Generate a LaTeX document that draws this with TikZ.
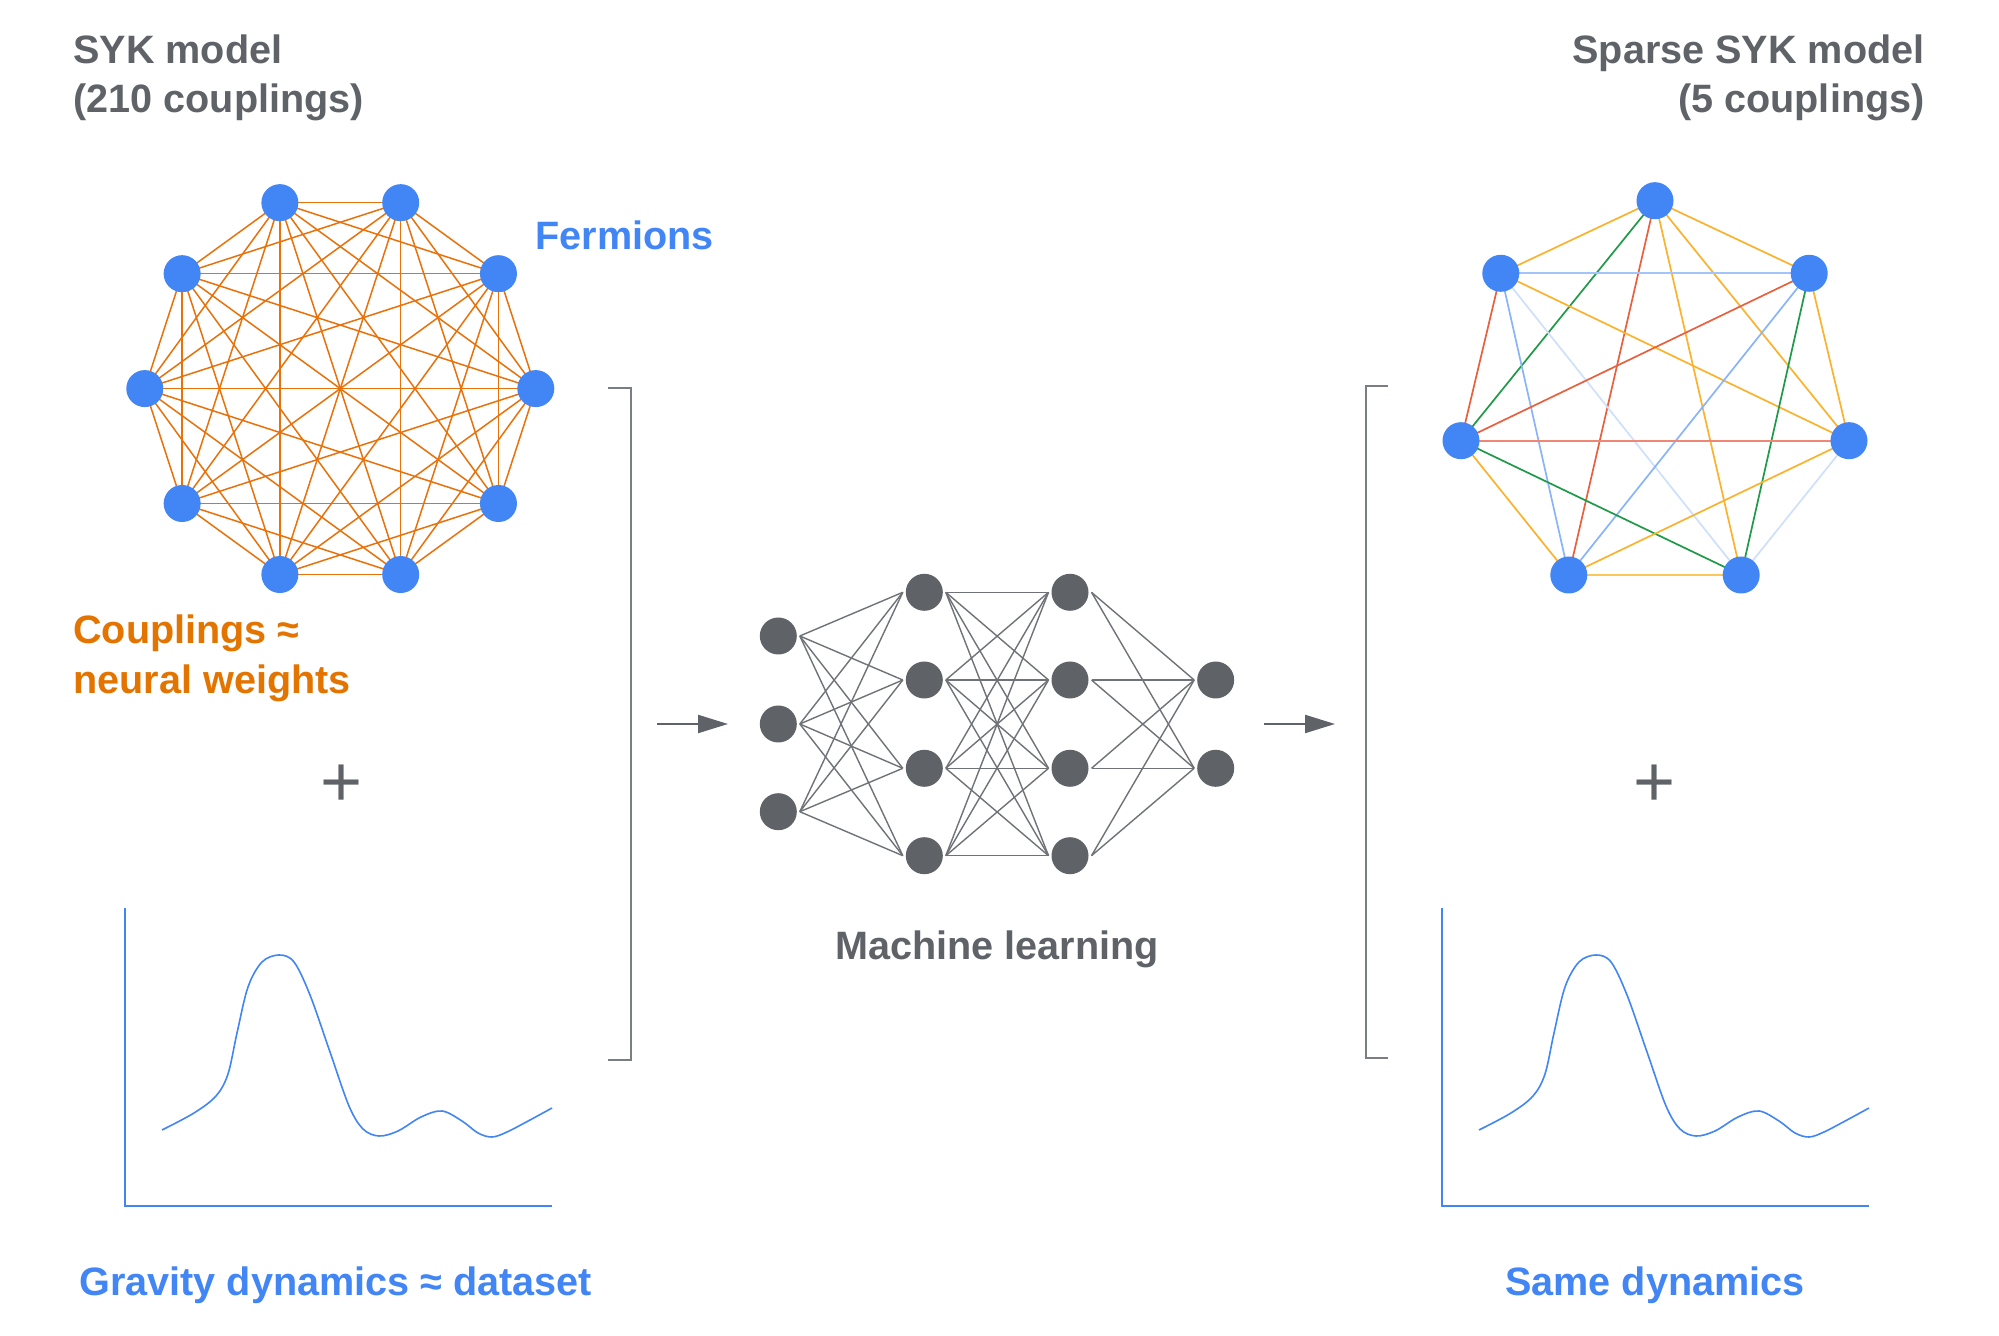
\documentclass[tikz,border=0pt]{standalone}
\usepackage{fontspec}
\setmainfont{Liberation Sans}
\usetikzlibrary{arrows.meta}
\definecolor{ggray}{HTML}{5F6368}
\definecolor{gblue}{HTML}{4285F4}
\definecolor{gorange}{HTML}{E37400}
\definecolor{edgeor}{HTML}{E8710A}
\definecolor{nnedge}{HTML}{6F7377}
\definecolor{brkgray}{HTML}{7A7E83}
\definecolor{cyel}{HTML}{FBB22C}
\definecolor{cyelL}{HTML}{FCC659}
\definecolor{cred}{HTML}{E9603F}
\definecolor{credL}{HTML}{F08774}
\definecolor{cgreen}{HTML}{1F9A48}
\definecolor{cblue}{HTML}{8AB4F8}
\definecolor{cblueM}{HTML}{A3C4FA}
\definecolor{cblueL}{HTML}{CFE0FC}
\pgfdeclarelayer{bg}
\pgfdeclarelayer{canvas}
\pgfsetlayers{canvas,bg,main}
\begin{document}
\begin{tikzpicture}[x=0.5pt,y=-0.5pt,
  lbl/.style={inner sep=0pt,font=\fontsize{19.8}{24}\selectfont\bfseries},
  plussign/.style={inner sep=0pt,text=ggray,font=\fontsize{36}{40}\selectfont},
  fer/.style={circle,fill=gblue,inner sep=0pt,minimum size=18.5pt},
  nn/.style={circle,fill=ggray,inner sep=0pt,minimum size=18.5pt,outer sep=1.5pt},
  cpl/.style={draw=edgeor,line width=0.75pt},
  sp/.style={line width=0.85pt},
  nnl/.style={draw=nnedge,line width=0.7pt},
  arr/.style={draw=ggray,line width=1.1pt,-{Triangle[length=15pt,width=9pt]}},
  brk/.style={draw=brkgray,line width=1pt},
  ax/.style={draw=gblue,line width=0.8pt},
  crv/.style={draw=gblue,line width=0.8pt}]
\begin{pgfonlayer}{canvas}
\fill[white] (0,0) rectangle (1999,1336);
\end{pgfonlayer}
\useasboundingbox (0,0) rectangle (1999,1336);

% ---------- texts ----------
\node[lbl,text=ggray,anchor=base west] (t1) at (73,64) {SYK model};
\node[lbl,text=ggray,anchor=base west] (t2) at (73,113) {(210 couplings)};
\node[lbl,text=ggray,anchor=base east] (t3) at (1925,64) {Sparse SYK model};
\node[lbl,text=ggray,anchor=base east] (t4) at (1925,113) {(5 couplings)};
\node[lbl,text=gblue,anchor=base west] (fer) at (535,250) {Fermions};
\node[lbl,text=gorange,anchor=base west] (cp1) at (73,644) {Couplings ≈};
\node[lbl,text=gorange,anchor=base west] (cp2) at (73,694) {neural weights};
\node[plussign,anchor=base] (p1) at (342,807) {+};
\node[plussign,anchor=base] (p2) at (1655,807) {+};
\node[lbl,text=ggray,anchor=base] (ml) at (997,959) {Machine learning};
\node[lbl,text=gblue,anchor=base west] (gd) at (79,1295) {Gravity dynamics ≈ dataset};
\node[lbl,text=gblue,anchor=base] (sd) at (1655,1295) {Same dynamics};

% ---------- dense SYK graph ----------
\foreach \i in {0,...,9}
  \node[fer] (s\i) at ({340.3+195.5*cos(36*\i)},{388.6-195.5*sin(36*\i)}) {};
\begin{pgfonlayer}{bg}
\foreach \i in {0,...,8}{
  \pgfmathtruncatemacro\js{\i+1}
  \foreach \j in {\js,...,9}
    \draw[cpl] (s\i.center) -- (s\j.center);
}
\end{pgfonlayer}

% ---------- sparse SYK graph ----------
\node[fer] (T)  at (1655,200.7) {};
\node[fer] (UR) at (1809.2,273.3) {};
\node[fer] (R)  at (1849,440.7) {};
\node[fer] (LR) at (1741.2,575) {};
\node[fer] (LL) at (1568.8,575) {};
\node[fer] (L)  at (1461,440.7) {};
\node[fer] (UL) at (1500.8,273.3) {};
\begin{pgfonlayer}{bg}
\draw[sp,cyel]   (T.center) -- (UL.center);
\draw[sp,cyel]   (T.center) -- (UR.center);
\draw[sp,cgreen] (T.center) -- (L.center);
\draw[sp,cred]   (T.center) -- (LL.center);
\draw[sp,cyel]   (T.center) -- (LR.center);
\draw[sp,cyel]   (T.center) -- (R.center);
\draw[sp,cblueM] (UL.center) -- (UR.center);
\draw[sp,cred]   (UL.center) -- (L.center);
\draw[sp,cblue]  (UL.center) -- (LL.center);
\draw[sp,cblueL] (UL.center) -- (LR.center);
\draw[sp,cyel]   (UL.center) -- (R.center);
\draw[sp,cred]   (UR.center) -- (L.center);
\draw[sp,cblue]  (UR.center) -- (LL.center);
\draw[sp,cgreen] (UR.center) -- (LR.center);
\draw[sp,cyel]   (UR.center) -- (R.center);
\draw[sp,credL]  (L.center) -- (R.center);
\draw[sp,cyel]   (L.center) -- (LL.center);
\draw[sp,cgreen] (L.center) -- (LR.center);
\draw[sp,cyelL]  (LL.center) -- (LR.center);
\draw[sp,cyel]   (LL.center) -- (R.center);
\draw[sp,cblueL] (R.center) -- (LR.center);
\end{pgfonlayer}

% ---------- neural network ----------
\node[nn] (a1) at (778.3,636) {};
\node[nn] (a2) at (778.3,724) {};
\node[nn] (a3) at (778.3,811.7) {};
\foreach \k/\y in {1/592.3,2/680,3/768.3,4/855.7}{
  \node[nn] (b\k) at (924.3,\y) {};
  \node[nn] (c\k) at (1070,\y) {};
}
\node[nn] (d1) at (1215.7,680) {};
\node[nn] (d2) at (1215.7,768.3) {};
\foreach \i in {1,2,3}
  \foreach \j in {1,...,4}
    \draw[nnl] (a\i.east) -- (b\j.west);
\foreach \i in {1,...,4}
  \foreach \j in {1,...,4}
    \draw[nnl] (b\i.east) -- (c\j.west);
\foreach \i in {1,...,4}
  \foreach \j in {1,2}
    \draw[nnl] (c\i.east) -- (d\j.west);

% ---------- arrows ----------
\coordinate (ar1s) at (657,724);
\coordinate (ar1e) at (728,724);
\coordinate (ar2s) at (1264,724);
\coordinate (ar2e) at (1335,724);
\draw[arr] (ar1s) -- (ar1e);
\draw[arr] (ar2s) -- (ar2e);

% ---------- brackets ----------
\draw[brk] (608,388) -- (630.7,388) -- (630.7,1060) -- (608,1060);
\draw[brk] (1388,386) -- (1365.5,386) -- (1365.5,1058) -- (1388,1058);

% ---------- plots ----------
\foreach \dx in {0,1317}{
\begin{scope}[shift={(\dx,0)}]
\draw[ax] (125,908) -- (125,1206) -- (552,1206);
\draw[crv] plot[smooth,tension=0.55] coordinates {
 (162,1130) (194,1113) (216,1096) (228,1074) (237,1033) (248,987) (262,962)
 (279,955) (294,962) (310,995) (330,1052) (349,1106) (363,1129) (379,1136)
 (398,1131) (421,1117) (442,1111) (462,1121) (478,1133) (492,1137)
 (507,1132) (530,1120) (552,1108)};
\end{scope}
}
\end{tikzpicture}
\end{document}
